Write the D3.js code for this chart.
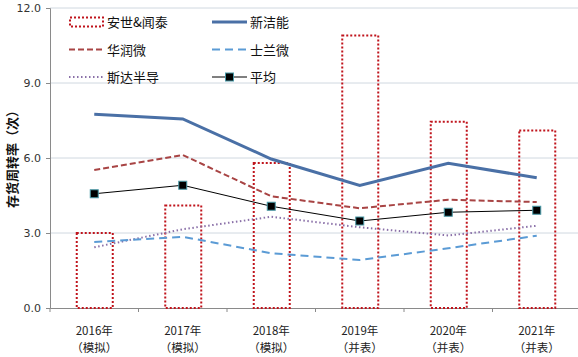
<!DOCTYPE html>
<html><head><meta charset="utf-8">
<script src="https://cdn.jsdelivr.net/npm/d3@7"></script>
<style>body{margin:0;background:#fff}svg{display:block;font-family:"Noto Sans CJK SC","DejaVu Sans",sans-serif}</style>
</head><body><svg id="c" width="578" height="357"></svg>
<script>
const categories = ["2016年|（模拟）","2017年|（模拟）","2018年|（模拟）","2019年|（并表）","2020年|（并表）","2021年|（并表）"];
const anshi = [3.0, 4.1, 5.8, 10.9, 7.45, 7.1];
const xinjieneng = [7.75, 7.56, 5.96, 4.9, 5.79, 5.21];
const huarunwei = [5.52, 6.12, 4.47, 3.99, 4.33, 4.24];
const shilanwei = [2.64, 2.85, 2.19, 1.92, 2.39, 2.89];
const sida = [2.43, 3.15, 3.65, 3.23, 2.9, 3.29];
const pingjun = [4.57, 4.91, 4.07, 3.48, 3.83, 3.91];
const yTicks = [0, 3, 6, 9, 12];
const yTitle = "存货周转率（次）";

const svg = d3.select("#c");
const x = d3.scaleBand().domain(categories).range([50, 581]).paddingInner(0).paddingOuter(0);
const y = d3.scaleLinear().domain([0, 12]).range([308, 8]);

// gridlines
svg.append("g").selectAll("line").data(yTicks.filter(d=>d>0)).join("line")
  .attr("x1", 50).attr("x2", 578).attr("y1", d=>y(d)).attr("y2", d=>y(d))
  .attr("stroke", "#d0d8e0").attr("stroke-width", 1);

// y axis
const ya = svg.append("g").attr("transform","translate(50,0)")
  .call(d3.axisLeft(y).tickValues(yTicks).tickFormat(d3.format(".1f")).tickSize(4).tickPadding(5));
ya.select(".domain").attr("stroke","#8a8a8a");
ya.selectAll(".tick line").attr("stroke","#8a8a8a");
ya.selectAll("text").attr("font-family","DejaVu Sans, sans-serif").attr("font-size",11).attr("fill","#333");

// x axis
const xa = svg.append("g").attr("transform","translate(0,308)")
  .call(d3.axisBottom(x).tickSize(0).tickFormat(""));
xa.select(".domain").attr("stroke","#8a8a8a");
const bounds = categories.map(c=>x(c)).concat([x(categories[categories.length-1])+x.bandwidth()]);
svg.append("g").selectAll("line").data(bounds).join("line")
  .attr("x1",d=>d).attr("x2",d=>d).attr("y1",308).attr("y2",312).attr("stroke","#8a8a8a");
const xl = svg.append("g").selectAll("g").data(categories).join("g");
xl.append("text").attr("x", d=>x(d)+x.bandwidth()/2).attr("y",335).attr("text-anchor","middle")
  .attr("font-size",11.5).attr("fill","#222").text(d=>d.split("|")[0]);
xl.append("text").attr("x", d=>x(d)+x.bandwidth()/2).attr("y",352).attr("text-anchor","middle")
  .attr("font-size",11.5).attr("fill","#222").text(d=>d.split("|")[1]);

// y title
svg.append("text").attr("transform","translate(17,156) rotate(-90)").attr("text-anchor","middle")
  .attr("font-size",13).attr("font-weight","bold").attr("fill","#111").text(yTitle);

// bars
const bw = 36;
svg.append("g").selectAll("rect").data(anshi).join("rect")
  .attr("x",(d,i)=>x(categories[i])+x.bandwidth()/2-bw/2+0.5).attr("width",bw)
  .attr("y",d=>y(d)).attr("height",d=>y(0)-y(d))
  .attr("fill","none").attr("stroke","#c0141c").attr("stroke-width",2).attr("stroke-dasharray","2,2");

const cx = i => x(categories[i]) + x.bandwidth()/2;
const line = d3.line().x((d,i)=>cx(i)).y(d=>y(d));
const series = [
  {data: sida, color:"#8a70a8", w:2, dash:"1.5,2.5"},
  {data: shilanwei, color:"#5b9bd5", w:2, dash:"8,5"},
  {data: huarunwei, color:"#a84444", w:2, dash:"6,3"},
  {data: xinjieneng, color:"#4a70a6", w:3, dash:null},
  {data: pingjun, color:"#000", w:1, dash:null}
];
series.forEach(s=>{
  svg.append("path").attr("d", line(s.data)).attr("fill","none").attr("stroke",s.color)
    .attr("stroke-width",s.w).attr("stroke-dasharray",s.dash);
});
svg.append("g").selectAll("rect").data(pingjun).join("rect")
  .attr("x",(d,i)=>cx(i)-4).attr("y",d=>y(d)-4).attr("width",8).attr("height",8)
  .attr("fill","#000").attr("stroke","#4a9aa8").attr("stroke-width",1);

// legend
const lg = svg.append("g");
const items = [
  {t:"安世&闻泰", type:"bar", col:0, row:0},
  {t:"新洁能", type:"line", color:"#4a70a6", w:3, dash:null, col:1, row:0},
  {t:"华润微", type:"line", color:"#a84444", w:2, dash:"6,3", col:0, row:1},
  {t:"士兰微", type:"line", color:"#5b9bd5", w:2, dash:"8,5", col:1, row:1},
  {t:"斯达半导", type:"line", color:"#8a70a8", w:2, dash:"1.5,2.5", col:0, row:2},
  {t:"平均", type:"marker", color:"#000", w:1, dash:null, col:1, row:2}
];
items.forEach(it=>{
  const x0 = it.col===0 ? 69 : 212;
  const yc = 22 + it.row*27.5;
  if(it.type==="bar"){
    lg.append("rect").attr("x",x0+1).attr("y",yc-4.5).attr("width",33).attr("height",9)
      .attr("fill","none").attr("stroke","#c0141c").attr("stroke-width",2).attr("stroke-dasharray","2,2");
  } else {
    lg.append("line").attr("x1",x0).attr("x2",x0+35).attr("y1",yc).attr("y2",yc)
      .attr("stroke",it.color).attr("stroke-width",it.w).attr("stroke-dasharray",it.dash);
    if(it.type==="marker"){
      lg.append("rect").attr("x",x0+17.5-4).attr("y",yc-4).attr("width",8).attr("height",8)
        .attr("fill","#000").attr("stroke","#4a9aa8");
    }
  }
  lg.append("text").attr("x",x0+38).attr("y",yc+5).attr("font-size",13).attr("fill","#111").text(it.t);
});
</script></body></html>
